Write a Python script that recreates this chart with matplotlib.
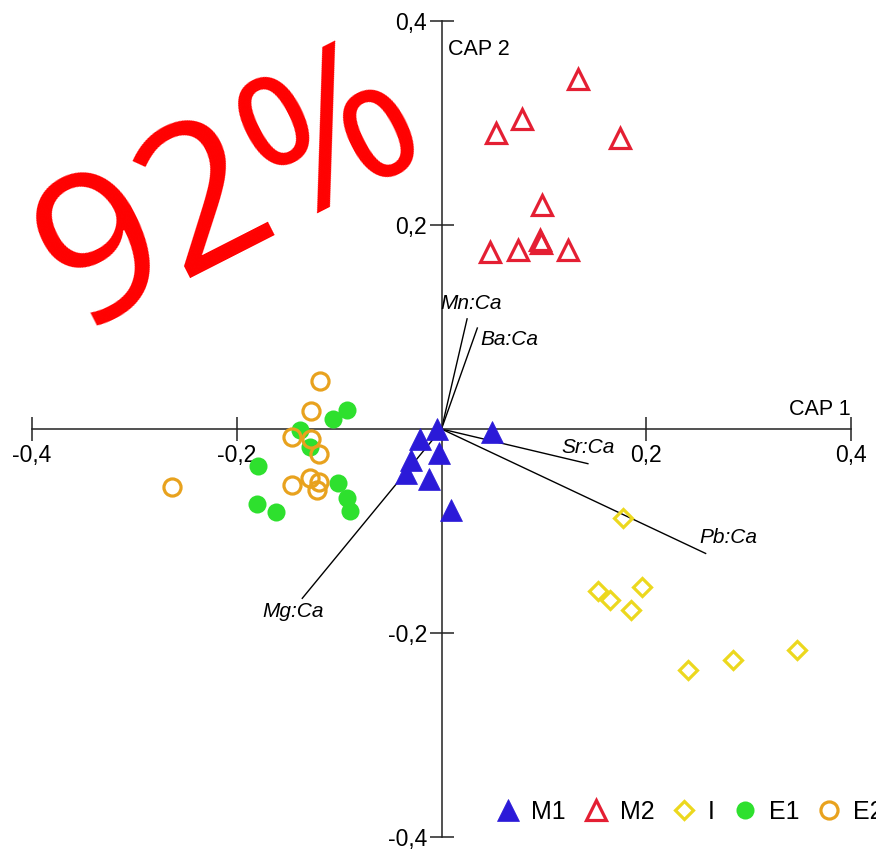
import matplotlib
matplotlib.use("Agg")
import matplotlib.pyplot as plt

plt.rcParams["font.family"] = ["Liberation Sans", "DejaVu Sans"]

# CAP scores per group
m1_x = [-0.004, 0.049, -0.021, -0.002, -0.030, -0.035, -0.012, 0.009]
m1_y = [0.000, -0.003, -0.010, -0.024, -0.030, -0.043, -0.049, -0.079]

m2_x = [0.133, 0.079, 0.053, 0.174, 0.098, 0.096, 0.097, 0.047, 0.075, 0.124]
m2_y = [0.343, 0.304, 0.290, 0.285, 0.220, 0.185, 0.182, 0.174, 0.175, 0.175]

i_x = [0.177, 0.153, 0.165, 0.185, 0.196, 0.241, 0.285, 0.347]
i_y = [-0.087, -0.159, -0.168, -0.177, -0.155, -0.236, -0.226, -0.217]

e1_x = [-0.092, -0.106, -0.138, -0.128, -0.179, -0.101, -0.092, -0.180, -0.162, -0.089]
e1_y = [0.019, 0.010, -0.001, -0.018, -0.036, -0.053, -0.068, -0.074, -0.081, -0.080]

e2_x = [-0.119, -0.127, -0.146, -0.127, -0.120, -0.146, -0.128, -0.120, -0.122, -0.263]
e2_y = [0.047, 0.018, -0.008, -0.010, -0.025, -0.055, -0.048, -0.052, -0.060, -0.057]

# element ratio vectors and where their labels sit
vec_names = ["Mn:Ca", "Ba:Ca", "Sr:Ca", "Pb:Ca", "Mg:Ca"]
vec_x = [0.025, 0.035, 0.143, 0.258, -0.136]
vec_y = [0.108, 0.099, -0.034, -0.122, -0.166]
lab_x = [-0.001, 0.038, 0.117, 0.252, -0.175]
lab_y = [0.123, 0.088, -0.018, -0.106, -0.179]

ticks = [-0.4, -0.2, 0.2, 0.4]
tick_labels = ["-0,4", "-0,2", "0,2", "0,4"]

fig = plt.figure(figsize=(8.76, 8.51), dpi=100)
ax = fig.add_axes([32 / 876, 14 / 851, 819 / 876, 816 / 851])
ax.set_xlim(-0.4, 0.4)
ax.set_ylim(-0.4, 0.4)

for s in ["top", "right"]:
    ax.spines[s].set_visible(False)
ax.spines["left"].set_position("zero")
ax.spines["bottom"].set_position("zero")
for s in ["left", "bottom"]:
    ax.spines[s].set_linewidth(1.1)
    ax.spines[s].set_color("#222222")

ax.set_xticks(ticks)
ax.set_xticklabels(tick_labels)
ax.set_yticks(ticks)
ax.set_yticklabels(tick_labels)
ax.tick_params(direction="inout", length=17, width=1.1, color="#222222",
               labelsize=16.5, pad=2)

for name, vx, vy, tx, ty in zip(vec_names, vec_x, vec_y, lab_x, lab_y):
    ax.plot([0, vx], [0, vy], color="black", lw=1.0, zorder=2)
    ax.text(tx, ty, name, fontsize=15, style="italic", ha="left", va="center")

ax.plot(m1_x, m1_y, ls="none", marker="^", ms=15.5, color="#2b1ad8",
        mec="#2b1ad8", mew=0.5, label="M1", zorder=4)
ax.plot(m2_x, m2_y, ls="none", marker="^", ms=14, mfc="none",
        mec="#e41f33", mew=2.3, label="M2", zorder=4)
ax.plot(i_x, i_y, ls="none", marker="D", ms=9.5, mfc="none",
        mec="#ecd81e", mew=2.3, label="I", zorder=4)
ax.plot(e1_x, e1_y, ls="none", marker="o", ms=13, color="#2ee02e",
        mew=0, label="E1", zorder=3)
ax.plot(e2_x, e2_y, ls="none", marker="o", ms=12.3, mfc="none",
        mec="#e8a21e", mew=2.3, label="E2", zorder=4)

ax.text(0.006, 0.382, "CAP 2", fontsize=15.5, ha="left", va="top")
ax.text(0.4, 0.009, "CAP 1", fontsize=15.5, ha="right", va="bottom")

# one row, runs off the right edge like the original
fig.legend(loc="center left", bbox_to_anchor=(495 / 876, 1 - 812 / 851),
           ncols=5, frameon=False, fontsize=18, numpoints=1,
           handlelength=1.0, handletextpad=0.45, columnspacing=0.7,
           borderpad=0, borderaxespad=0)

# red stamp in the upper left corner
fig.text(232 / 876, 1 - 192 / 851, "92%", fontsize=146, color="#ff0000",
         family="Open Sans", rotation=27, ha="center", va="center",
         rotation_mode="anchor")

fig.savefig("out.png", dpi=100)
